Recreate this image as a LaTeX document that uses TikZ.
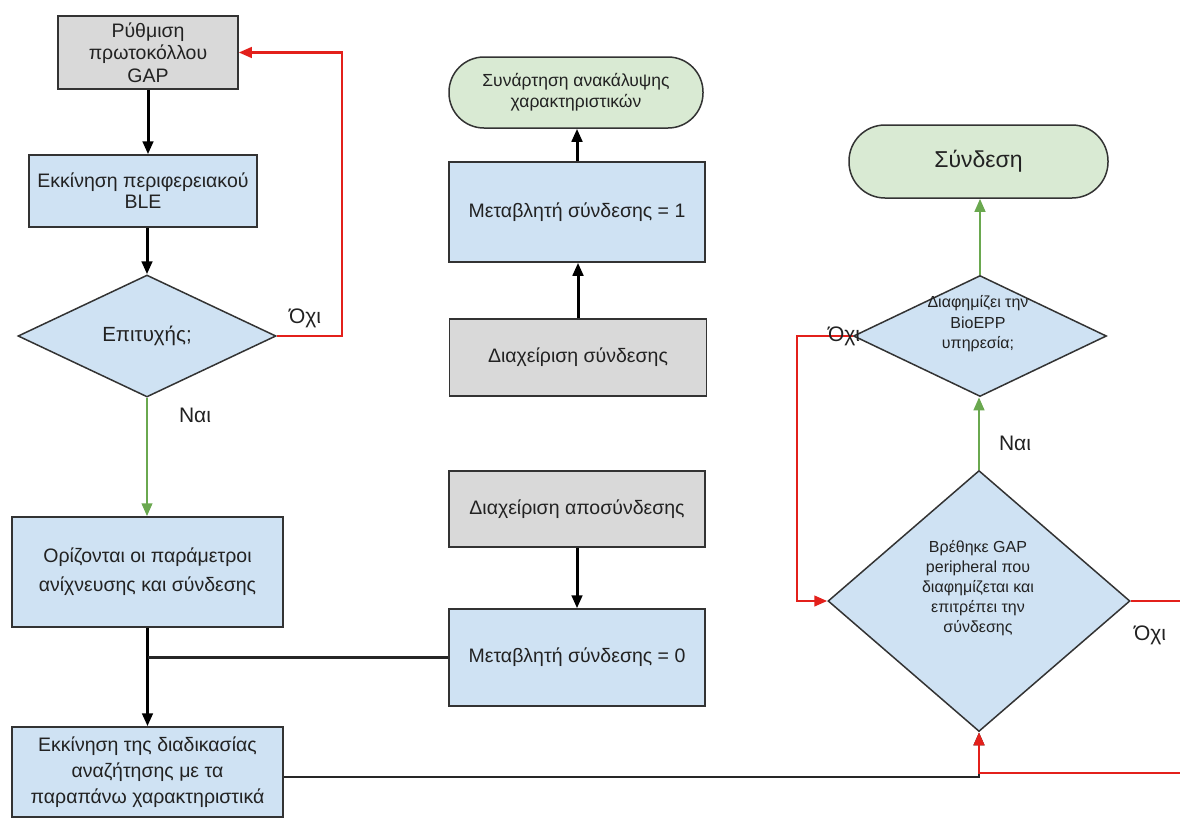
\documentclass[tikz,border=0pt]{standalone}
\usepackage{fontspec}
\setmainfont{Liberation Sans}
\usetikzlibrary{arrows.meta,shapes.geometric}
\definecolor{boxblue}{HTML}{CFE2F3}
\definecolor{boxgray}{HTML}{D9D9D9}
\definecolor{termgreen}{HTML}{D9EAD3}
\definecolor{boxline}{HTML}{333333}
\definecolor{ink}{HTML}{222222}
\definecolor{linered}{HTML}{E3201B}
\definecolor{linegreen}{HTML}{6AA84F}
\tikzset{
  base/.style={draw=boxline, line width=1.5pt, text=ink, align=center, inner sep=0pt},
  procblue/.style={base, rectangle, fill=boxblue},
  procgray/.style={base, rectangle, fill=boxgray},
  term/.style={base, rectangle, fill=termgreen, rounded corners=35pt},
  decision/.style={base, diamond, fill=boxblue},
  txt/.style={text=ink, align=center, inner sep=0pt},
  lbl/.style={text=ink, inner sep=0pt, font=\fontsize{21}{24}\selectfont},
  tip/.style={-{Triangle[length=13pt,width=10.5pt]}},
  flowblack/.style={tip, line width=3pt, draw=black},
  flowgreen/.style={tip, line width=2.6pt, draw=linegreen},
  flowred/.style={tip, line width=2.6pt, draw=linered},
  plainblack/.style={line width=2.5pt, draw=black!85}
}
\begin{document}
\begin{tikzpicture}[x=1pt,y=-1pt]
\clip (0,0) rectangle (1180,823);
\fill[white] (0,0) rectangle (1180,823);

% left column
\node[procgray, minimum width=180, minimum height=73, font=\fontsize{19.5}{22.5}\selectfont]
  (gap) at (148,52.5) {Ρύθμιση\\πρωτοκόλλου\\GAP};
\node[procblue, minimum width=228, minimum height=72, font=\fontsize{19.5}{21}\selectfont]
  (ble) at (143,191) {Εκκίνηση περιφερειακού\\BLE};
\node[decision, minimum width=258, minimum height=122, font=\fontsize{20.5}{22}\selectfont]
  (ok) at (147,336) {Επιτυχής;};
\node[procblue, minimum width=271, minimum height=110, font=\fontsize{19.5}{29}\selectfont]
  (params) at (147.5,572) {Ορίζονται οι παράμετροι\\ανίχνευσης και σύνδεσης};
\node[procblue, minimum width=271, minimum height=90, font=\fontsize{19.5}{26}\selectfont]
  (scan) at (147.5,772) {Εκκίνηση της διαδικασίας\\αναζήτησης με τα\\παραπάνω χαρακτηριστικά};

% middle column
\node[term, minimum width=254, minimum height=71, font=\fontsize{17.5}{21}\selectfont]
  (disc) at (576,92.5) {Συνάρτηση ανακάλυψης\\χαρακτηριστικών};
\node[procblue, minimum width=256, minimum height=100, font=\fontsize{19.5}{22}\selectfont]
  (var1) at (577,212) {Μεταβλητή σύνδεσης = 1};
\node[procgray, minimum width=257, minimum height=77, font=\fontsize{19.5}{22}\selectfont]
  (conn) at (578,357.5) {Διαχείριση σύνδεσης};
\node[procgray, minimum width=256, minimum height=76, font=\fontsize{19.5}{22}\selectfont]
  (disconn) at (577,509) {Διαχείριση αποσύνδεσης};
\node[procblue, minimum width=256, minimum height=97, font=\fontsize{19.5}{22}\selectfont]
  (var0) at (577,657.5) {Μεταβλητή σύνδεσης = 0};

% right column
\node[term, rounded corners=36pt, minimum width=259, minimum height=73, font=\fontsize{23}{26}\selectfont]
  (link) at (978.5,161.5) {Σύνδεση};
\node[decision, minimum width=253, minimum height=121] (adv) at (980,336) {};
\node[txt, font=\fontsize{16}{20.5}\selectfont] (advtext) at (978,324) {Διαφημίζει την\\BioEPP\\υπηρεσία;};
\node[decision, minimum width=302, minimum height=261] (found) at (979,601) {};
\node[txt, font=\fontsize{16}{20}\selectfont] (foundtext) at (978,588)
  {Βρέθηκε GAP\\peripheral που\\διαφημίζεται και\\επιτρέπει την\\σύνδεσης};

% helper points
\coordinate (backtop) at (342,52.5);
\coordinate (loopleft) at (797,336);
\coordinate (offright) at (1192,601);
\coordinate (offlow) at (1192,773);

% connectors, left column
\draw[flowblack] (gap.south) -- (gap.south |- ble.north);
\draw[flowblack] (ok.north |- ble.south) -- (ok.north);
\draw[flowgreen] (ok.south) -- (ok.south |- params.north);
\draw[flowred] (ok.east) -| (backtop) -- (gap.east);
\draw[flowblack] (params.south) -- (params.south |- scan.north);
\draw[plainblack] (var0.west) -- (params.south |- var0.west);

% connectors, middle column
\draw[flowblack] (conn.north) -- (conn.north |- var1.south);
\draw[flowblack] (var1.north) -- (var1.north |- disc.south);
\draw[flowblack] (disconn.south) -- (disconn.south |- var0.north);

% connectors, right column
\draw[plainblack, tip] ([yshift=-5pt]scan.east) -| (found.south);
\draw[flowred] (found.east) -- (offright) -- (offlow) -| (found.south);
\draw[flowred] (adv.west) -- (loopleft) |- (found.west);
\draw[flowgreen] (found.north) -- (found.north |- adv.south);
\draw[flowgreen] (adv.north) -- (adv.north |- link.south);

% branch labels
\node[lbl] (no1) at (305,318) {Όχι};
\node[lbl] (yes1) at (195,415) {Ναι};
\node[lbl] (no2) at (844,336) {Όχι};
\node[lbl] (yes2) at (1015,443) {Ναι};
\node[lbl] (no3) at (1150,635) {Όχι};
\end{tikzpicture}
\end{document}
